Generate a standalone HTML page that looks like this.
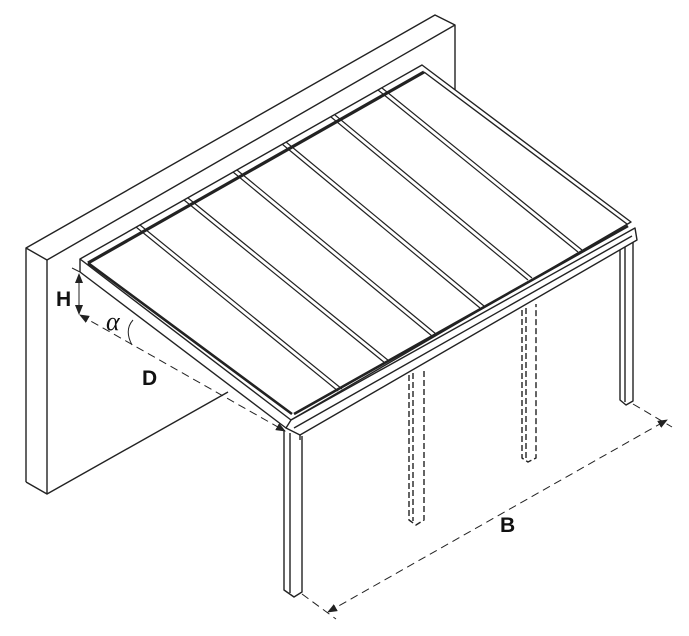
<!DOCTYPE html>
<html><head><meta charset="utf-8"><style>
html,body{margin:0;padding:0;background:#fff;}
svg{display:block;}
</style></head><body>
<svg width="689" height="636" viewBox="0 0 689 636" xmlns="http://www.w3.org/2000/svg">
<defs>
<marker id="ar" markerWidth="10" markerHeight="8" refX="9" refY="4" orient="auto-start-reverse" markerUnits="userSpaceOnUse">
<path d="M0,0 L10,4 L0,8 z" fill="#222"/></marker>
</defs>
<g fill="none" stroke="#222" stroke-width="1.4" stroke-linejoin="round">
<!-- wall -->
<path d="M26,482 L26,248 L435,15 L455,25 L455,205" fill="#fff"/>
<path d="M26,248 L47,260 L455,25"/>
<path d="M47,260 L47,494 L26,482"/>
<path d="M47,494 L228,392"/>
<!-- front post -->
<path d="M284,430 L284,590 L294,597 L302,592 L302,436" fill="#fff"/>
<line x1="290" y1="433" x2="290" y2="593"/>
<!-- back right post -->
<path d="M620,240 L620,400 L626,405 L633,401 L633,236" fill="#fff"/>
<line x1="625" y1="238" x2="625" y2="402"/>
<!-- hidden posts -->
<g stroke-dasharray="6,3">
<path d="M409,375 L409,520 L416,525 L424,520 L424,368"/>
<line x1="413" y1="373" x2="413" y2="521"/>
<path d="M522,310 L522,458 L528,462 L536,458 L536,304"/>
<line x1="526" y1="308" x2="526" y2="459"/>
</g>
<!-- roof -->
<path d="M80,259 L422,65 L631,222 L291,420 Z" fill="#fff"/>
<path d="M80,272 L286,428" />
<path d="M80,259 L80,272"/>
<!-- fascia -->
<path d="M291,420 L635,228 L637,240 L300,435 L286,428 Z" fill="#fff"/>
<line x1="300" y1="435" x2="300" y2="440"/>
<line x1="294" y1="428" x2="632" y2="236"/>
<!-- back rail thick -->
<path d="M88,263 L424,72" stroke-width="3.2"/>
<path d="M88,263 L292,414" stroke-width="2.6"/>
<path d="M424,72 L627,224"/>
<path d="M294,414 L628,226" stroke-width="2.6"/>
<!-- ridges -->
<g stroke-width="1.2">
<path d="M136,227 L338,391 M140,225 L342,389"/>
<path d="M184,200 L385,363 M188,198 L389,361"/>
<path d="M233,172 L432,336 M237,170 L436,334"/>
<path d="M282,144 L480,308 M286,142 L484,306"/>
<path d="M331,117 L528,280 M335,115 L532,278"/>
<path d="M378,90 L578,252 M382,88 L582,250"/>
</g>
<!-- dimensions -->
<line x1="79" y1="274" x2="79" y2="314" marker-start="url(#ar)" marker-end="url(#ar)" stroke-width="1"/>
<line x1="72" y1="268" x2="80" y2="272" stroke-width="1"/>
<g stroke-dasharray="8,5" stroke-width="1">
<line x1="80" y1="315" x2="285" y2="431" marker-start="url(#ar)" marker-end="url(#ar)"/>
<line x1="328" y1="612" x2="667" y2="420" marker-start="url(#ar)" marker-end="url(#ar)"/>
<line x1="302" y1="594" x2="336" y2="619"/>
<line x1="633" y1="404" x2="672" y2="427"/>
</g>
<path d="M133,320 Q124,330 132,345" stroke-width="1"/>
</g>
<g font-family="Liberation Sans, sans-serif" font-weight="bold" font-size="21" fill="#111">
<text x="56" y="306">H</text>
<text x="142" y="385">D</text>
<text x="500" y="532">B</text>
</g>
<text x="106" y="330" font-family="Liberation Serif, serif" font-style="italic" font-size="26" fill="#111">α</text>
</svg>
</body></html>
